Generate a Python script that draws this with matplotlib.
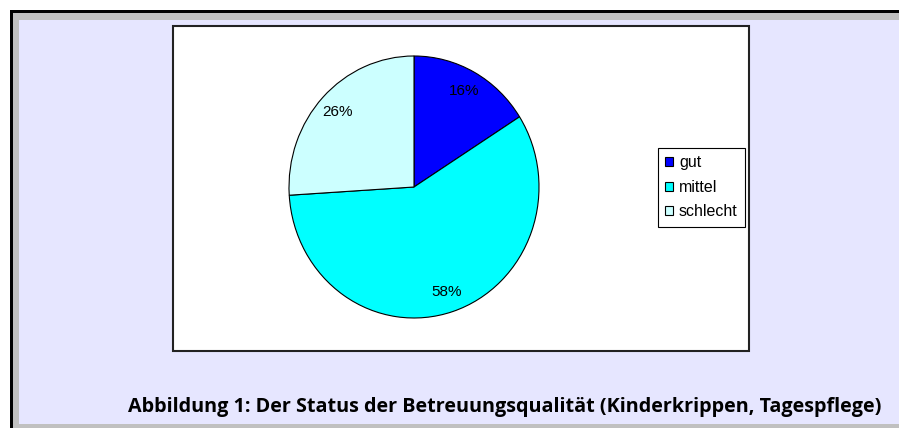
import matplotlib.pyplot as plt
from matplotlib.patches import Rectangle

labels = ['gut', 'mittel', 'schlecht']
values = [16, 58, 26]
colors = ['#0000FF', '#00FFFF', '#CCFFFF']
caption = 'Abbildung 1: Der Status der Betreuungsqualität (Kinderkrippen, Tagespflege)'

W, H = 899, 428
fig = plt.figure(figsize=(W / 100, H / 100), dpi=100)
fig.patch.set_facecolor('white')


def px(x0, y0, x1, y1):
    # pixel box (top-left origin) -> figure fraction rect
    return [x0 / W, 1 - y1 / H, (x1 - x0) / W, (y1 - y0) / H]


# background axes in pixel units for the frame
bg = fig.add_axes([0, 0, 1, 1])
bg.set_xlim(0, W)
bg.set_ylim(H, 0)
bg.axis('off')
bg.add_patch(Rectangle((10, 10), W + 20, H + 20, facecolor='black', edgecolor='none'))
bg.add_patch(Rectangle((13, 13), W + 20, H + 20, facecolor='#C0C0C0', edgecolor='none'))
bg.add_patch(Rectangle((19, 20), W + 20, 404, facecolor='#E6E6FF', edgecolor='none'))
# white chart area
bg.add_patch(Rectangle((173, 26), 576, 325, facecolor='white', edgecolor='#222222',
                       linewidth=1.5))

ax = fig.add_axes(px(289, 56, 539, 318))
wedges, texts, autotexts = ax.pie(values, colors=colors, startangle=90, counterclock=False,
                                  autopct='%d%%', pctdistance=0.84,
                                  wedgeprops=dict(edgecolor='black', linewidth=0.8),
                                  textprops=dict(fontsize=11, family='Liberation Sans'))
ax.set_aspect('auto')
ax.set_xlim(-1, 1)
ax.set_ylim(-1, 1)
ax.axis('off')

leg = fig.legend(wedges, labels, loc='upper right', bbox_to_anchor=(745 / W, 1 - 148 / H),
                 frameon=True, fancybox=False, edgecolor='black', framealpha=1,
                 prop=dict(family='Liberation Sans', size=11.5), handlelength=0.5,
                 handleheight=0.5, handletextpad=0.35, labelspacing=0.6, borderpad=0.45,
                 borderaxespad=0)
leg.get_frame().set_linewidth(0.8)

fig.text(505 / W, 1 - 407 / H, caption, ha='center', va='center', fontsize=14.2,
         fontweight='bold', family='Open Sans', color='black')

fig.savefig('out.png', dpi=100)
